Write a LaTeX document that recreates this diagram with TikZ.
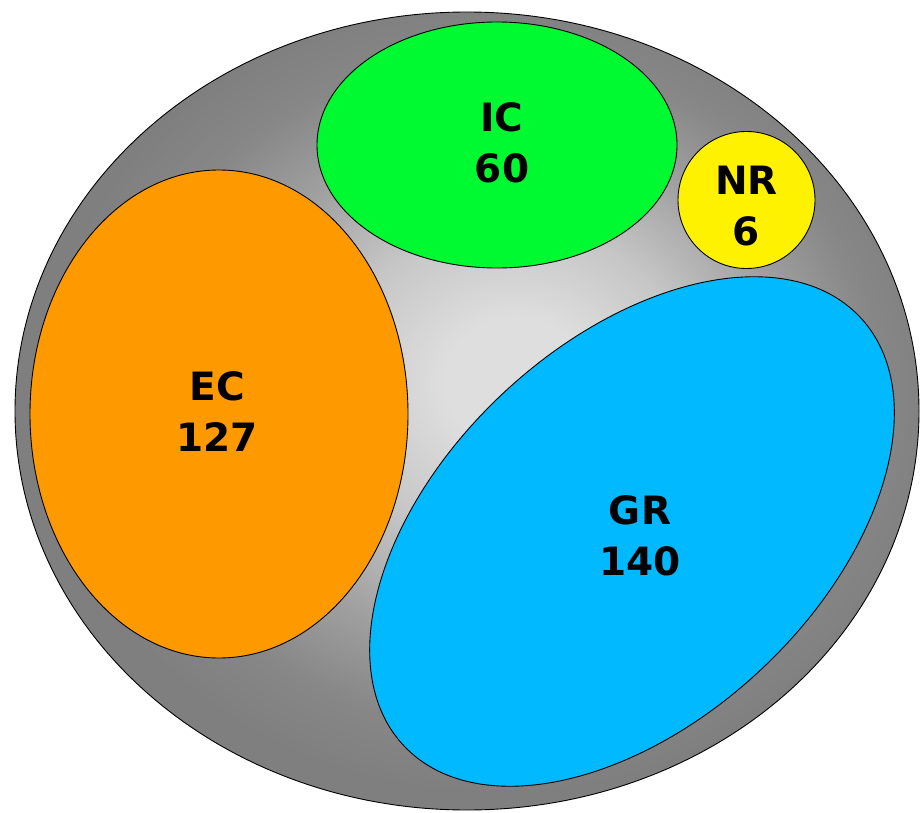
\documentclass[tikz,border=0pt]{standalone}
\usepackage{fontspec}
\newfontfamily\lblfont{DejaVu Sans}
\usetikzlibrary{shapes.geometric}

\definecolor{glowin}{HTML}{DEDEDE}
\definecolor{glowmid}{HTML}{C6C6C6}
\definecolor{glowlow}{HTML}{A0A0A0}
\definecolor{glowdim}{HTML}{878787}
\definecolor{glowout}{HTML}{7F7F7F}
\definecolor{ecfill}{HTML}{FF9900}
\definecolor{icfill}{HTML}{00FA32}
\definecolor{nrfill}{HTML}{FFF200}
\definecolor{grfill}{HTML}{00B9FF}

% off-centre glow for the enclosing set (rim of the set sits at 25bp)
\pgfdeclareradialshading{backglow}{\pgfpoint{3bp}{2bp}}{%
  color(0bp)=(glowin); color(4bp)=(glowin); color(10bp)=(glowmid);
  color(16bp)=(glowlow); color(21bp)=(glowdim); color(25bp)=(glowout);
  color(50bp)=(glowout)}

\tikzset{
  blob/.style={ellipse, draw=black, line width=0.9pt, inner sep=0pt, outer sep=0pt},
  setlabel/.style={align=center, inner sep=0pt,
    font=\lblfont\bfseries\fontsize{39}{51}\selectfont}
}

\begin{document}
\begin{tikzpicture}[x=1pt,y=-1pt]
  \useasboundingbox (0,0) rectangle (921,813);

  % enclosing set
  \node[blob, shading=backglow, minimum width=904pt, minimum height=798pt] (all) at (467,411) {};

  % subsets
  \node[blob, fill=icfill, minimum width=360pt, minimum height=246pt] (ic) at (497,145) {};
  \node[blob, fill=nrfill, minimum width=137pt, minimum height=137pt] (nr) at (746.5,200) {};
  \node[blob, fill=ecfill, minimum width=378pt, minimum height=488pt] (ec) at (219,414) {};
  \node[blob, fill=grfill, minimum width=626pt, minimum height=378pt, rotate=43.2] (gr) at (632,531.5) {};

  % labels
  \node[setlabel] (iclbl) at (502,142.5) {IC\\60};
  \node[setlabel] (nrlbl) at (746.5,206) {NR\\6};
  \node[setlabel] (eclbl) at (217,412) {EC\\127};
  \node[setlabel] (grlbl) at (640,536) {GR\\140};
\end{tikzpicture}
\end{document}
